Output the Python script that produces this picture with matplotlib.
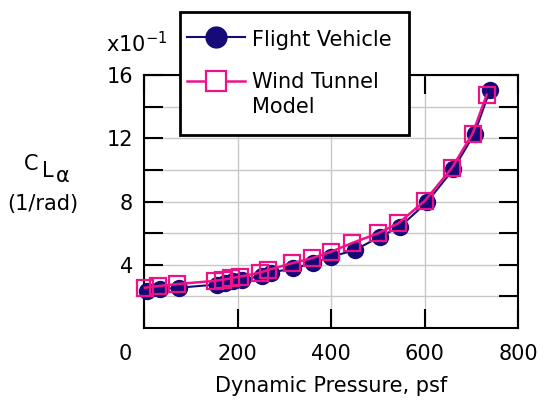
import matplotlib
matplotlib.use("Agg")
import matplotlib.pyplot as plt
import numpy as np
from matplotlib.legend_handler import HandlerLine2D
from matplotlib.lines import Line2D

plt.rcParams['font.family'] = ['DejaVu Sans']
plt.rcParams['mathtext.fontset'] = 'dejavusans'

# ---- data (C_L_alpha in units of 1e-1 per rad) ----
q_flight = [6, 35, 75, 156, 174, 191, 209, 252, 272, 319, 362, 401, 451, 505, 548, 605, 662, 707, 740]
cla_flight = [2.35, 2.45, 2.55, 2.75, 2.85, 2.95, 3.05, 3.3, 3.5, 3.78, 4.09, 4.51, 4.93, 5.78, 6.41, 7.95, 10.05, 12.3, 15.05]
q_wt = [2, 31, 71, 152, 170, 187, 205, 248, 266, 316, 359, 401, 444, 501, 544, 601, 658, 703, 733]
cla_wt = [2.55, 2.65, 2.78, 2.98, 3.06, 3.15, 3.25, 3.5, 3.67, 4.09, 4.41, 4.83, 5.36, 5.99, 6.62, 8.05, 10.1, 12.3, 14.75]

x_ticks = [0, 200, 400, 600, 800]
x_ticklabels = ['', '200', '400', '600', '800']
y_ticks = [2, 4, 6, 8, 10, 12, 14, 16]
y_ticklabels = ['', '4', '', '8', '', '12', '', '16']

NAVY = '#150A78'
PINK = '#EE1289'
FS = 15

fig = plt.figure(figsize=(5.48, 4.04), dpi=100)
ax = fig.add_axes([144/548, 1-328/404, 374/548, 253/404])
ax.set_xlim(0, 800)
ax.set_ylim(0, 16)
ax.set_xticks(x_ticks)
ax.set_xticklabels(x_ticklabels)
ax.set_yticks(y_ticks)
ax.set_yticklabels(y_ticklabels)
ax.grid(True, color='#c8c8c8', lw=1.0)
ax.set_axisbelow(True)
for s in ax.spines.values():
    s.set_linewidth(1.5)
    s.set_color('black')
ax.tick_params(direction='in', length=13.5, width=1.5, top=True, right=True,
               labelsize=FS, colors='black')
ax.tick_params(axis='x', pad=11.5)
ax.tick_params(axis='y', pad=8.0)

l1, = ax.plot(q_flight, cla_flight, '-o', color=NAVY, lw=1.5, ms=11.5,
              mfc=NAVY, mec=NAVY, clip_on=False, zorder=3)
l2, = ax.plot(q_wt, cla_wt, '-s', color=PINK, lw=1.8, ms=11.5, mfc='none',
              mec=PINK, mew=1.6, clip_on=False, zorder=4)

ax.annotate('0', xy=(0, 0), xycoords='data', xytext=(-19, -16),
            textcoords='offset pixels', ha='center', va='top', fontsize=FS)

ax.set_xlabel('Dynamic Pressure, psf', fontsize=FS, labelpad=9)

fig.text(106/548, 1-44/404, r'x10$^{\mathregular{-1}}$', ha='left', va='center', fontsize=FS)
# C_L_alpha label built from pieces
fig.text(24/548, 1-170/404, 'C', ha='left', va='baseline', fontsize=FS)
fig.text(42/548, 1-177/404, 'L', ha='left', va='baseline', fontsize=FS)
fig.text(56/548, 1-182/404, 'α', ha='left', va='baseline', fontsize=FS)
fig.text(43/548, 1-204/404, '(1/rad)', ha='center', va='center', fontsize=FS)


class ShiftHandler(HandlerLine2D):
    def __init__(self, dx=0.0, dy=0.0, **kw):
        super().__init__(**kw)
        self.dx = dx
        self.dy = dy

    def create_artists(self, legend, orig_handle, xdescent, ydescent, width,
                       height, fontsize, trans):
        arts = super().create_artists(legend, orig_handle, xdescent, ydescent,
                                      width, height, fontsize, trans)
        for a in arts:
            a.set_xdata(np.asarray(a.get_xdata(), float) + self.dx)
            a.set_ydata(np.asarray(a.get_ydata(), float) + self.dy)
        return arts


h1 = Line2D([], [], color=NAVY, lw=1.5, marker='o', ms=15, mfc=NAVY, mec=NAVY)
h2 = Line2D([], [], color=PINK, lw=1.8, marker='s', ms=14, mfc='white', mec=PINK, mew=1.6)
leg = fig.legend([h1, h2], ['Flight Vehicle', 'Wind Tunnel\nModel'],
                 loc='upper left', bbox_to_anchor=(180/548, 1-12/404),
                 borderaxespad=0, fontsize=FS, frameon=True, fancybox=False,
                 framealpha=1, edgecolor='black', borderpad=0.85,
                 handlelength=2.8, handletextpad=-0.2, labelspacing=1.05,
                 handler_map={h1: ShiftHandler(dx=-8, dy=1), h2: ShiftHandler(dx=-8, dy=10.5)})
for t in leg.get_texts():
    t.set_linespacing(1.35)
leg.get_frame().set_linewidth(2.0)
leg.set_zorder(10)

fig.savefig('out.png', dpi=100)
